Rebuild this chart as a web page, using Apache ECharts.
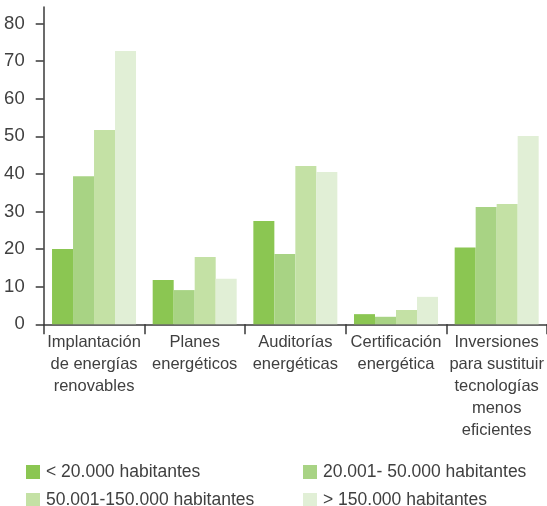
<!DOCTYPE html>
<html>
<head>
<meta charset="utf-8">
<script src="https://cdn.jsdelivr.net/npm/echarts@6/dist/echarts.min.js"></script>
<style>
html,body{margin:0;padding:0;background:#fff;}
#chart{width:547px;height:506px;}
</style>
</head>
<body>
<div id="chart"></div>
<script>
const categories = [
  "Implantación\nde energías\nrenovables",
  "Planes\nenergéticos",
  "Auditorías\nenergéticas",
  "Certificación\nenergética",
  "Inversiones\npara sustituir\ntecnologías\nmenos\neficientes"
];
const seriesNames = [
  "< 20.000 habitantes",
  "20.001- 50.000 habitantes",
  "50.001-150.000 habitantes",
  "> 150.000 habitantes"
];
const valuesUnder20k = [20.0, 11.8, 27.5, 2.7, 20.4];
const values20kTo50k = [39.4, 9.1, 18.7, 2.0, 31.2];
const values50kTo150k = [51.7, 17.9, 42.1, 3.8, 32.0];
const valuesOver150k = [72.7, 12.1, 40.5, 7.3, 50.1];
const yTicks = [0, 10, 20, 30, 40, 50, 60, 70, 80];

const colors = ["#8bc652", "#a8d384", "#c4e1a5", "#e1efd6"];
const allValues = [valuesUnder20k, values20kTo50k, values50kTo150k, valuesOver150k];
const font = "'Liberation Sans', Arial, sans-serif";
const textColor = "#404040";

const chart = echarts.init(document.getElementById('chart'), null, {renderer: 'canvas'});

const legendPos = [[26, 463], [303, 463], [26, 491], [303, 491]];

chart.setOption({
  animation: false,
  color: colors,
  grid: {left: 43.7, width: 511.5, top: 7, bottom: 181.7, containLabel: false},
  legend: seriesNames.map((n, i) => ({
    data: [n],
    left: legendPos[i][0],
    top: legendPos[i][1],
    icon: 'rect',
    itemWidth: 14,
    itemHeight: 14,
    itemGap: 0,
    padding: 0,
    selectedMode: false,
    textStyle: {fontFamily: font, fontSize: 17.5, color: textColor, padding: [0, 0, 0, 1]}
  })),
  xAxis: {
    type: 'category',
    data: categories,
    axisLine: {lineStyle: {color: '#3a3a3a', width: 1.5}},
    axisTick: {show: true, length: 10, lineStyle: {color: '#3a3a3a', width: 1.5}},
    axisLabel: {
      interval: 0,
      margin: 7,
      fontFamily: font,
      fontSize: 16.5,
      lineHeight: 22,
      color: textColor,
      align: 'center'
    }
  },
  yAxis: {
    type: 'value',
    min: 0,
    max: 84.4,
    interval: 10,
    splitLine: {show: false},
    axisLine: {show: true, lineStyle: {color: '#3a3a3a', width: 1.5}},
    axisTick: {show: true, length: 8, customValues: yTicks, lineStyle: {color: '#3a3a3a', width: 1.5}},
    axisLabel: {
      customValues: yTicks,
      margin: 19,
      fontFamily: font,
      fontSize: 18.5,
      color: textColor
    }
  },
  series: seriesNames.map((n, i) => ({
    name: n,
    type: 'bar',
    data: allValues[i],
    barWidth: 21,
    barGap: '0%',
    itemStyle: {color: colors[i]}
  }))
});
</script>
</body>
</html>
